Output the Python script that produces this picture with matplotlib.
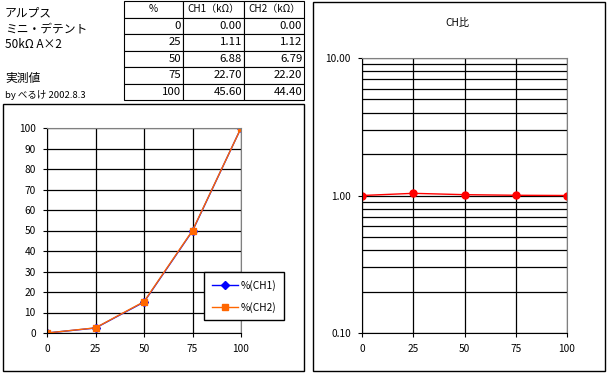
import matplotlib.pyplot as plt
from matplotlib.patches import Rectangle

plt.rcParams['font.family'] = ['Noto Sans CJK JP', 'DejaVu Sans']

# measured data
pos = [0, 25, 50, 75, 100]
ch1 = [0.00, 1.11, 6.88, 22.70, 45.60]
ch2 = [0.00, 1.12, 6.79, 22.20, 44.40]
# CH ratio as plotted on the right chart
ratio = [1.00, 1.037, 1.014, 1.004, 1.00]

header = ['%', 'CH1（kΩ）', 'CH2（kΩ）']
notes = ['アルプス', 'ミニ・デテント', '50kΩ A×2', '', '実測値', 'by べるけ 2002.8.3']

W, H = 609, 374


def box(x0, y0, x1, y1):
    # pixel box (top-left origin) -> figure fraction rect
    return [x0 / W, 1 - y1 / H, (x1 - x0) / W, (y1 - y0) / H]


def frame(x0, y0, x1, y1):
    r = box(x0, y0, x1, y1)
    fig.patches.append(Rectangle((r[0], r[1]), r[2], r[3], transform=fig.transFigure,
                                 fill=False, ec='black', lw=1.0))


fig = plt.figure(figsize=(W / 100, H / 100), dpi=100)
fig.patch.set_facecolor('white')

# notes on the top left
ys = [13, 29, 45, 62, 78, 95]
for t, y in zip(notes, ys):
    fs = 6.8 if t.startswith('by') else 8.5
    fig.text(5 / W, 1 - y / H, t, fontsize=fs, va='center', ha='left')

# table
tab_ax = fig.add_axes(box(123.5, 1, 304, 100))
tab_ax.axis('off')
rows = [[str(p), '%.2f' % a, '%.2f' % b] for p, a, b in zip(pos, ch1, ch2)]
tbl = tab_ax.table(cellText=[header] + rows, bbox=[0, 0, 1, 1], cellLoc='right',
                   colWidths=[59.5, 61, 60])
tbl.auto_set_font_size(False)
for (r, c), cell in tbl.get_celld().items():
    cell.set_linewidth(0.8)
    cell.get_text().set_fontsize(8.2)
    cell.PAD = 0.03
    if r == 0:
        cell.get_text().set_fontsize(7.2)
        cell.get_text().set_ha('center')
        cell._loc = 'center'

# left chart
frame(3, 104, 304, 371)
pct1 = [v / ch1[-1] * 100 for v in ch1]
pct2 = [v / ch2[-1] * 100 for v in ch2]

ax = fig.add_axes(box(47, 128, 241, 333))
ax.plot(pos, pct1, color='#0000ff', marker='D', ms=4, lw=1, label='%(CH1)')
ax.plot(pos, pct2, color='#ff6600', marker='s', ms=5, lw=1, label='%(CH2)')
ax.set_xlim(0, 100)
ax.set_ylim(0, 100)
ax.set_xticks(pos)
ax.set_yticks(range(0, 101, 10))
ax.grid(True, color='black', lw=0.9)
ax.set_axisbelow(True)
for s in ['top', 'right']:
    ax.spines[s].set_color('#808080')
ax.tick_params(labelsize=7.3, length=3, width=0.8, pad=5)
ax.legend(loc='upper left', bbox_to_anchor=(204 / W, 1 - 272 / H), bbox_transform=fig.transFigure,
          borderaxespad=0, fancybox=False, edgecolor='black', framealpha=1, fontsize=7.3,
          handlelength=2.6, borderpad=0.75, labelspacing=1.1, handletextpad=0.3)

# right chart
frame(313, 2, 605, 371)
fig.text(457 / W, 1 - 23 / H, 'CH比', fontsize=7.3, ha='center', va='center')
ax2 = fig.add_axes(box(362, 58, 567, 333))
ax2.plot(pos, ratio, color='red', marker='o', ms=5, lw=1)
ax2.set_yscale('log')
ax2.set_xlim(0, 100)
ax2.set_ylim(0.1, 10)
ax2.set_xticks(pos)
ax2.set_yticks([0.1, 1, 10])
ax2.set_yticklabels(['0.10', '1.00', '10.00'])
ax2.grid(True, which='major', color='black', lw=0.9)
ax2.grid(True, which='minor', axis='y', color='black', lw=0.9)
ax2.set_axisbelow(True)
for s in ['top', 'right']:
    ax2.spines[s].set_color('#808080')
ax2.tick_params(labelsize=7.3, length=3, width=0.8, pad=5)
ax2.tick_params(which='minor', length=0, labelleft=False)

fig.savefig('out.png', dpi=100)
